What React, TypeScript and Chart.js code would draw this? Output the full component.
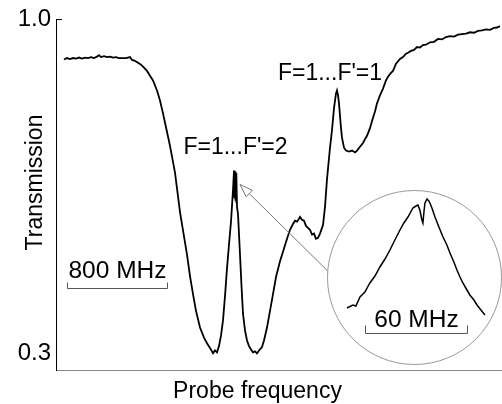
import React, { useEffect, useRef } from "react";
import { Chart, registerables } from "chart.js";

Chart.register(...registerables);

const FONT = "'Liberation Sans', Arial, Helvetica, sans-serif";

// Main spectrum: probe detuning (MHz) vs transmission
const freqMHz = [
  64, 88, 112, 136, 160, 184, 208, 232, 256, 280, 304, 328, 344, 360, 384, 408, 432, 456, 480, 504,
  528, 560, 592, 608, 632, 656, 680, 704, 728, 752, 776, 808, 832, 856, 880, 912, 952, 992, 1024, 1048,
  1072, 1096, 1120, 1152, 1184, 1208, 1232, 1248, 1256, 1272, 1288, 1304, 1320, 1336, 1352, 1368, 1384, 1400, 1416, 1424,
  1426, 1428, 1430, 1432, 1434, 1436, 1438, 1440, 1442, 1444, 1448, 1456, 1472, 1484, 1496, 1512, 1528, 1544, 1560, 1576,
  1592, 1608, 1624, 1648, 1664, 1688,
  1712, 1736, 1760, 1792, 1816, 1848, 1872, 1896, 1912, 1928, 1944, 1952, 1968, 1984, 2000, 2016, 2032, 2048, 2064, 2080,
  2096, 2112, 2128, 2136, 2152, 2168, 2192, 2208, 2224, 2240, 2248, 2256, 2264, 2280, 2288, 2304, 2320, 2344, 2368, 2392,
  2408, 2432, 2456, 2472, 2488, 2512, 2528, 2552, 2568, 2592, 2616, 2640, 2656, 2680, 2696, 2720, 2752, 2776, 2800, 2816,
  2840, 2864, 2888, 2912, 2936, 2960, 2992, 3024, 3056, 3088, 3120, 3152, 3184, 3216, 3248, 3280, 3312, 3344, 3376, 3408,
  3440, 3472, 3504, 3528, 3552,
];
const transmission = [
  0.916, 0.919, 0.917, 0.919, 0.918, 0.92, 0.918, 0.92, 0.919, 0.921, 0.919, 0.922, 0.925, 0.921, 0.923, 0.921, 0.922, 0.92, 0.921, 0.919,
  0.919, 0.919, 0.921, 0.915, 0.913, 0.909, 0.905, 0.899, 0.892, 0.882, 0.872, 0.851, 0.83, 0.803, 0.774, 0.735, 0.679, 0.596, 0.545, 0.507,
  0.462, 0.424, 0.389, 0.354, 0.333, 0.321, 0.311, 0.304, 0.3, 0.306, 0.302, 0.315, 0.337, 0.369, 0.42, 0.478, 0.528, 0.576, 0.642, 0.683,
  0.63, 0.682, 0.625, 0.681, 0.622, 0.68, 0.62, 0.678, 0.615, 0.672, 0.607, 0.592, 0.507, 0.441, 0.383, 0.348, 0.327, 0.315, 0.308, 0.302,
  0.304, 0.3, 0.306, 0.313, 0.327, 0.354,
  0.389, 0.424, 0.46, 0.493, 0.513, 0.54, 0.559, 0.571, 0.578, 0.576, 0.582, 0.586, 0.58, 0.578, 0.567, 0.563, 0.559, 0.549, 0.551, 0.54,
  0.542, 0.551, 0.563, 0.569, 0.607, 0.665, 0.731, 0.768, 0.814, 0.845, 0.851, 0.841, 0.824, 0.772, 0.752, 0.731, 0.725, 0.723, 0.725, 0.721,
  0.725, 0.733, 0.741, 0.749, 0.756, 0.772, 0.787, 0.807, 0.824, 0.841, 0.855, 0.872, 0.88, 0.888, 0.892, 0.907, 0.917, 0.921, 0.928, 0.93,
  0.934, 0.936, 0.942, 0.941, 0.946, 0.947, 0.952, 0.953, 0.959, 0.958, 0.963, 0.965, 0.964, 0.968, 0.969, 0.97, 0.973, 0.972, 0.976, 0.977,
  0.979, 0.978, 0.982, 0.983, 0.986,
];

// Inset: zoom on the F=1...F'=2 peak (MHz from the narrow dip)
const insetFreqMHz = [
  -44.7, -41.2, -39.4, -37.0, -34.1, -31.2, -28.2, -25.3, -22.3, -19.4, -16.5, -13.5, -11.2, -8.8, -5.9, -4.1, -2.9, -1.8, -0.6, 0,
  0.6, 1.2, 2.4, 3.5, 4.1, 5.3, 7.1, 9.4, 11.8, 14.1, 15.9, 18.2, 20.0, 21.8, 23.5, 25.9, 27.6, 30.0, 31.8, 34.1, 36.5,
];
const insetTransmission = [
  0.572, 0.575, 0.574, 0.583, 0.588, 0.597, 0.604, 0.613, 0.621, 0.63, 0.64, 0.65, 0.657, 0.663, 0.672, 0.674, 0.675, 0.67, 0.66, 0.657,
  0.668, 0.677, 0.681, 0.679, 0.677, 0.672, 0.663, 0.653, 0.643, 0.635, 0.627, 0.618, 0.61, 0.603, 0.597, 0.59, 0.585, 0.58, 0.575, 0.57, 0.565,
];

const yTickValues = [0.3, 1.0];
const yTitle = "Transmission";
const xTitle = "Probe frequency";
const peakLabels = ["F=1...F'=2", "F=1...F'=1"];
const peakLabelFreq = [1436, 2192];
const peakLabelLevel = [0.718, 0.872];
const mainBarLabel = "800 MHz";
const mainBarFrom = 88;
const mainBarTo = 888;
const mainBarLevel = 0.437;
const mainBarTextLevel = 0.458;
const insetBarLabel = "60 MHz";
const insetBarFrom = -34.1;
const insetBarTo = 25.9;
const insetBarLevel = 0.547;
const insetBarTextLevel = 0.553;
const arrowTip = [1472, 0.654];
const arrowTail = [2176, 0.472];

const mainDeco = {
  id: "mainDeco",
  afterDraw(chart: any) {
    const { ctx, chartArea } = chart;
    const xs = chart.scales.x;
    const ys = chart.scales.y;
    ctx.save();
    // inner tick at 1.0
    ctx.strokeStyle = "#000";
    ctx.lineWidth = 1;
    const t1 = Math.round(ys.getPixelForValue(1.0)) + 0.5;
    ctx.beginPath();
    ctx.moveTo(chartArea.left, t1);
    ctx.lineTo(chartArea.left + 6, t1);
    ctx.stroke();

    // axis titles
    ctx.fillStyle = "#000";
    ctx.font = `23px ${FONT}`;
    ctx.textAlign = "center";
    ctx.textBaseline = "alphabetic";
    ctx.fillText(xTitle, 257.5, 398);
    ctx.save();
    ctx.translate(42, 182.5);
    ctx.rotate(-Math.PI / 2);
    ctx.fillText(yTitle, 0, 0);
    ctx.restore();

    // peak labels
    for (let i = 0; i < peakLabels.length; i++) {
      ctx.fillText(peakLabels[i], xs.getPixelForValue(peakLabelFreq[i]), ys.getPixelForValue(peakLabelLevel[i]));
    }

    // 800 MHz scale bar
    const bx0 = Math.round(xs.getPixelForValue(mainBarFrom)) + 0.5;
    const bx1 = Math.round(xs.getPixelForValue(mainBarTo)) + 0.5;
    const by = Math.round(ys.getPixelForValue(mainBarLevel)) + 0.5;
    ctx.strokeStyle = "#555";
    ctx.lineWidth = 1;
    ctx.beginPath();
    ctx.moveTo(bx0, by - 6);
    ctx.lineTo(bx0, by);
    ctx.lineTo(bx1, by);
    ctx.lineTo(bx1, by - 6);
    ctx.stroke();
    ctx.font = `24.5px ${FONT}`;
    ctx.fillText(mainBarLabel, (bx0 + bx1) / 2, ys.getPixelForValue(mainBarTextLevel));

    // arrow from inset to peak
    const tx = xs.getPixelForValue(arrowTip[0]);
    const ty = ys.getPixelForValue(arrowTip[1]);
    const sx = xs.getPixelForValue(arrowTail[0]);
    const sy = ys.getPixelForValue(arrowTail[1]);
    const len = Math.hypot(tx - sx, ty - sy);
    const dx = (tx - sx) / len;
    const dy = (ty - sy) / len;
    const hx = tx - dx * 13;
    const hy = ty - dy * 13;
    const nx = -dy;
    const ny = dx;
    ctx.strokeStyle = "#777";
    ctx.beginPath();
    ctx.moveTo(sx, sy);
    ctx.lineTo(hx, hy);
    ctx.stroke();
    ctx.beginPath();
    ctx.moveTo(tx, ty);
    ctx.lineTo(hx + nx * 4.5, hy + ny * 4.5);
    ctx.lineTo(hx - nx * 4.5, hy - ny * 4.5);
    ctx.closePath();
    ctx.fillStyle = "#fff";
    ctx.fill();
    ctx.stroke();
    ctx.restore();
  },
};

const insetDeco = {
  id: "insetDeco",
  beforeDatasetsDraw(chart: any) {
    const { ctx, width, height } = chart;
    ctx.save();
    ctx.beginPath();
    ctx.arc(width / 2, height / 2, Math.min(width, height) / 2 - 0.5, 0, Math.PI * 2);
    ctx.fillStyle = "#fff";
    ctx.fill();
    ctx.strokeStyle = "#999";
    ctx.lineWidth = 1;
    ctx.stroke();
    ctx.restore();
  },
  afterDraw(chart: any) {
    const { ctx } = chart;
    const xs = chart.scales.x;
    const ys = chart.scales.y;
    ctx.save();
    const bx0 = Math.round(xs.getPixelForValue(insetBarFrom)) + 0.5;
    const bx1 = Math.round(xs.getPixelForValue(insetBarTo)) + 0.5;
    const by = Math.round(ys.getPixelForValue(insetBarLevel)) + 0.5;
    ctx.strokeStyle = "#555";
    ctx.lineWidth = 1;
    ctx.beginPath();
    ctx.moveTo(bx0, by - 8);
    ctx.lineTo(bx0, by);
    ctx.lineTo(bx1, by);
    ctx.lineTo(bx1, by - 8);
    ctx.stroke();
    ctx.fillStyle = "#000";
    ctx.font = `24.5px ${FONT}`;
    ctx.textAlign = "center";
    ctx.textBaseline = "alphabetic";
    ctx.fillText(insetBarLabel, (bx0 + bx1) / 2, ys.getPixelForValue(insetBarTextLevel));
    ctx.restore();
  },
};

export default function App() {
  const mainRef = useRef<HTMLCanvasElement>(null);
  const insetRef = useRef<HTMLCanvasElement>(null);

  useEffect(() => {
    const main = new Chart(mainRef.current as HTMLCanvasElement, {
      type: "line",
      data: {
        datasets: [
          {
            data: freqMHz.map((f, i) => ({ x: f, y: transmission[i] })),
            borderColor: "#000",
            borderWidth: 1.8,
            pointRadius: 0,
            tension: 0,
            fill: false,
          },
        ],
      },
      options: {
        responsive: false,
        animation: false,
        devicePixelRatio: 1,
        layout: { padding: { top: 15, left: 0, right: 0, bottom: 0 } },
        plugins: { legend: { display: false }, tooltip: { enabled: false }, title: { display: false } },
        scales: {
          x: {
            type: "linear",
            min: 0,
            max: 3568,
            ticks: { display: false },
            grid: { display: false, drawTicks: false },
            border: { display: true, color: "#888", width: 1 },
            afterFit: (s: any) => {
              s.height = 34;
            },
          },
          y: {
            type: "linear",
            min: 0.265,
            max: 1.0,
            afterBuildTicks: (s: any) => {
              s.ticks = yTickValues.map((v) => ({ value: v }));
            },
            ticks: {
              padding: 5,
              color: "#000",
              font: { family: FONT, size: 24 },
              callback: (v: any) => Number(v).toFixed(1),
            },
            grid: { display: true, drawOnChartArea: false, drawTicks: false },
            border: { display: true, color: "#000", width: 1 },
            afterFit: (s: any) => {
              s.width = 56;
            },
          },
        },
      },
      plugins: [mainDeco],
    } as any);

    const inset = new Chart(insetRef.current as HTMLCanvasElement, {
      type: "line",
      data: {
        datasets: [
          {
            data: insetFreqMHz.map((f, i) => ({ x: f, y: insetTransmission[i] })),
            borderColor: "#000",
            borderWidth: 1.5,
            pointRadius: 0,
            tension: 0,
            fill: false,
          },
        ],
      },
      options: {
        responsive: false,
        animation: false,
        devicePixelRatio: 1,
        layout: { padding: 0 },
        plugins: { legend: { display: false }, tooltip: { enabled: false } },
        scales: {
          x: { type: "linear", min: -56.4, max: 46.5, display: false },
          y: { type: "linear", min: 0.515, max: 0.69, display: false },
        },
      },
      plugins: [insetDeco],
    } as any);

    return () => {
      main.destroy();
      inset.destroy();
    };
  }, []);

  return (
    <div style={{ position: "fixed", left: 0, top: 0, width: 502, height: 404, background: "#fff" }}>
      <canvas ref={mainRef} width={502} height={404} style={{ position: "absolute", left: 0, top: 0 }} />
      <canvas
        ref={insetRef}
        width={175}
        height={175}
        style={{ position: "absolute", left: 327, top: 190 }}
      />
    </div>
  );
}
